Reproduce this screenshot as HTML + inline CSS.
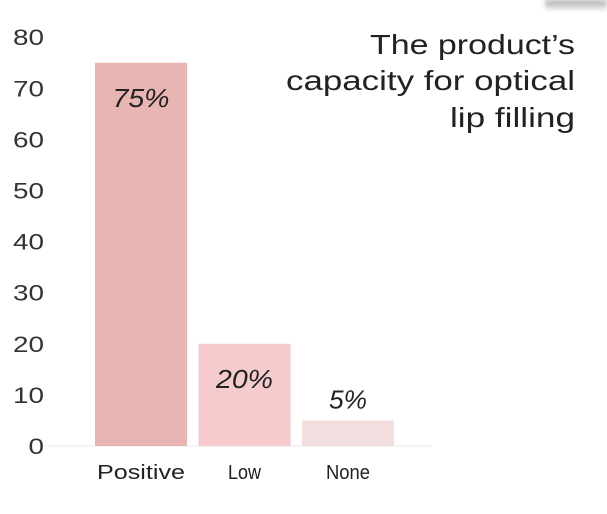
<!DOCTYPE html>
<html><head><meta charset="utf-8"><style>
body{margin:0;width:607px;height:514px;background:#fff;overflow:hidden;font-family:"Liberation Sans",sans-serif;position:relative}
svg{position:absolute;left:0;top:0}
</style></head><body>
<div style="position:absolute;left:545px;top:0;width:62px;height:10px;background:linear-gradient(to bottom,#aaa,#eee);filter:blur(2px)"></div>
<svg width="607" height="514">
<g id="g"></g>
<g font-size="28" fill="#222" text-anchor="end">
<text x="575" y="54" textLength="205" lengthAdjust="spacingAndGlyphs">The product’s</text>
<text x="575" y="90" textLength="289" lengthAdjust="spacingAndGlyphs">capacity for optical</text>
<text x="575" y="127" textLength="125" lengthAdjust="spacingAndGlyphs">lip filling</text>
</g>
</svg>
<script>
const categories=["Positive","Low","None"];
const values=[75,20,5];
const labels=["75%","20%","5%"];
const ticks=[0,10,20,30,40,50,60,70,80];
const colors=["#e9b5b3","#f6cbce","#f3dfdf"];
const y0=446,yScale=v=>y0-v*5.11;
const xStart=95,step=103.5,bw=92;
const g=document.getElementById('g');
const NS="http://www.w3.org/2000/svg";
function mk(t,a){const e=document.createElementNS(NS,t);for(const k in a)e.setAttribute(k,a[k]);g.appendChild(e);return e;}
const base=mk('line',{x1:45,x2:432,y1:y0,y2:y0,stroke:'#f4f4f4','stroke-width':2});


ticks.forEach(t=>{
 const s=String(t);
 const e=mk('text',{x:44,y:yScale(t)+8,'text-anchor':'end','font-size':22,fill:'#333',textLength:s.length*15.5,lengthAdjust:'spacingAndGlyphs'});
 e.textContent=s;
 
 
});
categories.forEach((c,i)=>{
 const x=xStart+i*step,top=yScale(values[i]);
 const r=mk('rect',{x:x,y:top,width:bw,height:y0-top,fill:colors[i]});
 
 
 const inside=values[i]>10;
 const v=mk('text',{x:x+bw/2,y:inside?top+44:top-12,'text-anchor':'middle','font-size':26,'font-style':'italic',fill:'#222',textLength:labels[i].length*19,lengthAdjust:'spacingAndGlyphs'});
 v.textContent=labels[i];
 
 
 const l=mk('text',{x:x+bw/2,y:y0+33,'text-anchor':'middle','font-size':20,fill:'#222',textLength:c.length*11,lengthAdjust:'spacingAndGlyphs'});
 l.textContent=c;
 
 
});
</script>
</body></html>
